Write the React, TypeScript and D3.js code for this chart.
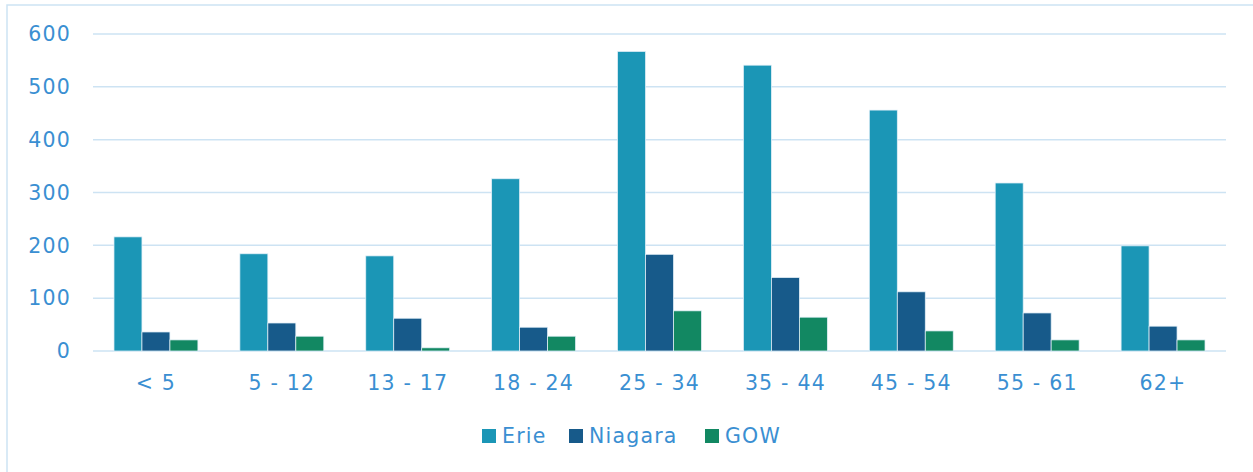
import React, { useRef, useEffect } from 'react';
import * as d3 from 'd3';

const categories = ['< 5', '5 - 12', '13 - 17', '18 - 24', '25 - 34', '35 - 44', '45 - 54', '55 - 61', '62+'];
const seriesNames = ['Erie', 'Niagara', 'GOW'];
const erie = [216, 184, 180, 326, 567, 541, 456, 318, 199];
const niagara = [36, 53, 62, 45, 183, 139, 112, 72, 47];
const gow = [21, 28, 6, 28, 76, 64, 38, 21, 21];
const colors = ['#1b96b6', '#175a8a', '#128862'];
const yTicks = [0, 100, 200, 300, 400, 500, 600];

const App = () => {
  const Svg = useRef<SVGSVGElement>(null);

  useEffect(() => {
    const width = 1253;
    const height = 472;
    const font = '"DejaVu Sans", sans-serif';
    const fontSize = 20.5;
    const spacing = 1.2;
    const textColor = '#3a8fd2';
    const gridColor = '#cde3f3';

    const svg = d3.select(Svg.current).attr('width', width).attr('height', height);
    svg.selectAll('*').remove();

    // chart frame
    svg
      .append('rect')
      .attr('x', 7)
      .attr('y', 5)
      .attr('width', width)
      .attr('height', height)
      .attr('fill', 'white')
      .attr('stroke', gridColor)
      .attr('stroke-width', 1.5);

    const x0 = d3.scaleBand().domain(categories).range([93, 1226]).paddingInner(1 / 3).paddingOuter(1 / 6);
    const x1 = d3.scaleBand().domain(seriesNames).range([0, x0.bandwidth()]);
    const y = d3.scaleLinear().domain([0, 600]).range([351, 34]);

    // gridlines
    svg
      .append('g')
      .selectAll('line')
      .data(yTicks)
      .enter()
      .append('line')
      .attr('x1', 93)
      .attr('x2', 1226)
      .attr('y1', (d) => y(d))
      .attr('y2', (d) => y(d))
      .attr('stroke', gridColor)
      .attr('stroke-width', 1.5);

    // y labels
    svg
      .append('g')
      .selectAll('text')
      .data(yTicks)
      .enter()
      .append('text')
      .text((d) => d)
      .attr('x', 71)
      .attr('y', (d) => y(d))
      .attr('dy', '0.35em')
      .attr('text-anchor', 'end')
      .attr('font-family', font)
      .attr('font-size', fontSize)
      .attr('letter-spacing', spacing)
      .attr('fill', textColor);

    const values = [erie, niagara, gow];
    const groups = svg
      .append('g')
      .selectAll('g')
      .data(categories)
      .enter()
      .append('g')
      .attr('transform', (d) => `translate(${x0(d)},0)`);

    groups
      .selectAll('rect')
      .data((d, i) => seriesNames.map((s, j) => ({ s, v: values[j][i], c: colors[j] })))
      .enter()
      .append('rect')
      .attr('x', (d) => x1(d.s))
      .attr('y', (d) => y(d.v))
      .attr('width', x1.bandwidth())
      .attr('height', (d) => y(0) - y(d.v))
      .attr('fill', (d) => d.c)
      .attr('stroke', '#e3f0f8')
      .attr('stroke-width', 0.75);

    // x labels
    svg
      .append('g')
      .selectAll('text')
      .data(categories)
      .enter()
      .append('text')
      .text((d) => d)
      .attr('x', (d) => x0(d) + x0.bandwidth() / 2)
      .attr('y', 383)
      .attr('dy', '0.35em')
      .attr('text-anchor', 'middle')
      .attr('font-family', font)
      .attr('font-size', fontSize)
      .attr('letter-spacing', spacing)
      .attr('fill', textColor);

    // legend
    const legendX = [482, 569, 705];
    const legend = svg
      .append('g')
      .selectAll('g')
      .data(seriesNames)
      .enter()
      .append('g')
      .attr('transform', (d, i) => `translate(${legendX[i]},436)`);
    legend
      .append('rect')
      .attr('x', 0)
      .attr('y', -7)
      .attr('width', 14)
      .attr('height', 14)
      .attr('fill', (d, i) => colors[i]);
    legend
      .append('text')
      .text((d) => d)
      .attr('x', 20)
      .attr('y', 0)
      .attr('dy', '0.35em')
      .attr('font-family', font)
      .attr('font-size', fontSize)
      .attr('letter-spacing', spacing)
      .attr('fill', textColor);
  }, []);

  return <svg ref={Svg} style={{ position: 'absolute', left: 0, top: 0 }} />;
};

export default App;
